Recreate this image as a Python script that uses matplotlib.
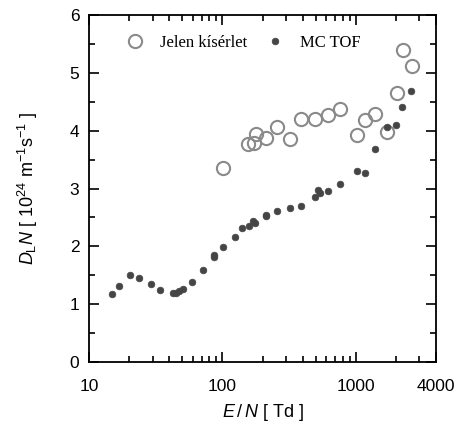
import matplotlib
matplotlib.use("Agg")
import matplotlib.pyplot as plt
from matplotlib.ticker import FixedLocator, NullFormatter, MultipleLocator

plt.rcParams['font.family'] = ['Liberation Sans', 'DejaVu Sans']
plt.rcParams['mathtext.fontset'] = 'custom'
plt.rcParams['mathtext.rm'] = 'Liberation Sans'
plt.rcParams['mathtext.it'] = 'Liberation Sans:italic'

# Data: present experiment (open circles)
exp_EN = [101, 156, 172, 178, 212, 256, 319, 388, 492, 616, 762,
          1016, 1178, 1400, 1713, 2025, 2247, 2625]
exp_DN = [3.35, 3.77, 3.79, 3.95, 3.88, 4.06, 3.86, 4.21, 4.21, 4.27, 4.37,
          3.93, 4.18, 4.29, 3.97, 4.66, 5.40, 5.12]

# Data: MC TOF (filled dots)
mc_EN = [14.9, 16.9, 20.4, 23.8, 29.2, 34.3, 42.4, 44.9, 47.0, 50.3, 59.1,
         71.1, 86.4, 86.4, 101.7, 125, 140, 159, 171, 175, 212, 212,
         258, 319, 388, 492, 518, 536, 616, 762,
         1016, 1178, 1400, 1713, 2013, 2234, 2606]
mc_DN = [1.18, 1.31, 1.51, 1.45, 1.34, 1.25, 1.19, 1.19, 1.22, 1.27, 1.39,
         1.59, 1.82, 1.85, 1.98, 2.17, 2.31, 2.36, 2.43, 2.40, 2.55, 2.53,
         2.61, 2.66, 2.70, 2.86, 2.98, 2.92, 2.96, 3.08,
         3.31, 3.27, 3.69, 4.07, 4.09, 4.41, 4.69]

xticks = [10, 100, 1000, 4000]
xticklabels = ['10', '100', '1000', '4000']

fig = plt.figure(figsize=(4.59, 4.29), dpi=100)
ax = fig.add_axes([0.1939, 0.1562, 0.7560, 0.8088])

ax.plot(exp_EN, exp_DN, linestyle='none', marker='o', markersize=9.5,
        markerfacecolor='none', markeredgecolor='#8a8a8a', markeredgewidth=1.5,
        label='Jelen kísérlet')
ax.plot(mc_EN, mc_DN, linestyle='none', marker='o', markersize=4.8,
        markerfacecolor='#454545', markeredgecolor='#454545', markeredgewidth=0.5,
        label='MC TOF')

ax.set_xscale('log')
ax.set_xlim(10, 4000)
ax.set_ylim(0, 6)
ax.xaxis.set_major_locator(FixedLocator(xticks))
ax.set_xticklabels(xticklabels)
minors = [v * d for d in (10, 100) for v in range(2, 10)] + [2000, 3000]
ax.xaxis.set_minor_locator(FixedLocator(minors))
ax.xaxis.set_minor_formatter(NullFormatter())
ax.yaxis.set_major_locator(MultipleLocator(1))
ax.yaxis.set_minor_locator(MultipleLocator(0.5))

ax.tick_params(which='both', direction='in', top=True, right=True,
               labelsize=12.5, width=1.2)
ax.tick_params(axis='x', which='both', pad=12)
ax.tick_params(axis='y', which='both', pad=7)
ax.tick_params(which='major', length=7)
ax.tick_params(which='minor', length=4)
for s in ax.spines.values():
    s.set_linewidth(1.3)

ax.set_xlabel(r'$\mathit{E}\,/\,\mathit{N}$ [ Td ]', fontsize=13, labelpad=6)
ax.set_ylabel(r'$\mathit{D}_{\rm L}\mathit{N}$ [ 10$^{24}$ m$^{-1}$s$^{-1}$ ]',
              fontsize=13, labelpad=21)

leg = ax.legend(loc='upper left', bbox_to_anchor=(0.065, 0.985), ncol=2,
                frameon=False, handletextpad=1.0, columnspacing=1.2,
                prop={'family': 'Liberation Serif', 'size': 12},
                handlelength=1.0)

fig.savefig('out.png', dpi=100)
